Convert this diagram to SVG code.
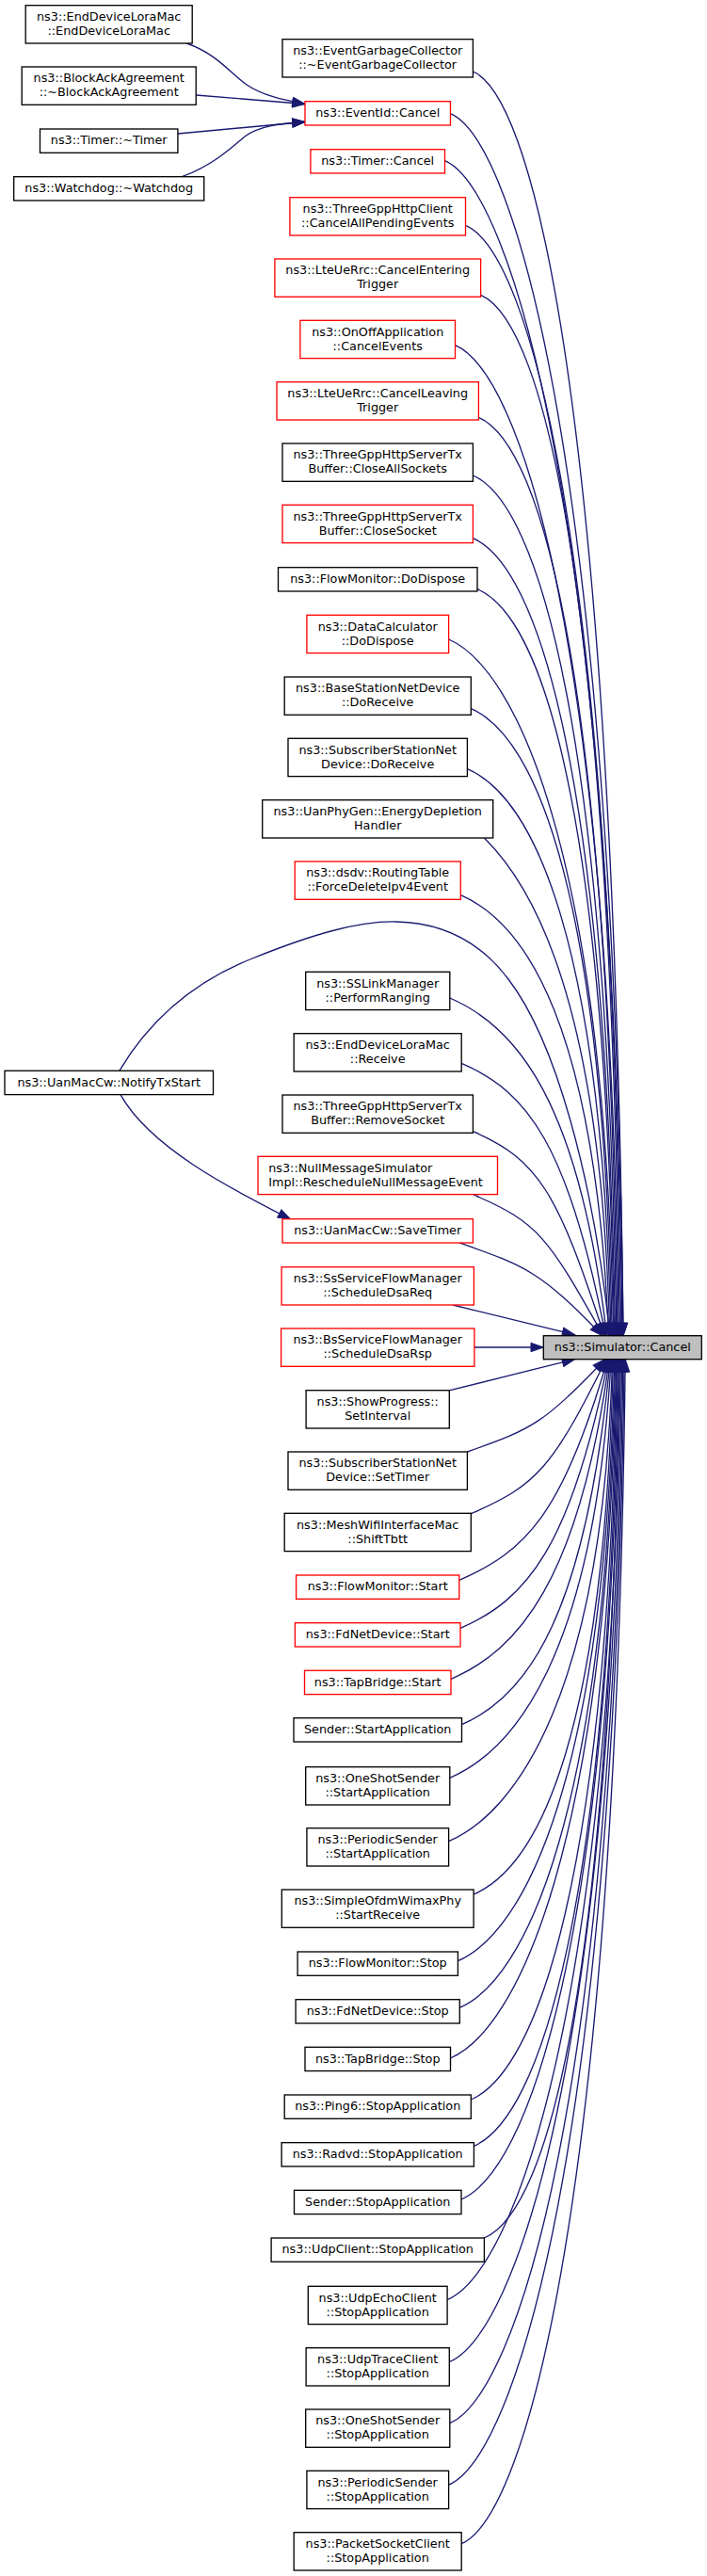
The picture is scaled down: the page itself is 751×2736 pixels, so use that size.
<svg xmlns="http://www.w3.org/2000/svg" width="751" height="2736" viewBox="0 0 751 2736">
<style>
.n rect{fill:#ffffff;stroke:#000000;stroke-width:1.33}
.r rect{stroke:#ff0000}
.t rect{fill:#bfbfbf;stroke:#000000}
text{font-family:"DejaVu Sans","Liberation Sans",sans-serif;font-size:12.8px;fill:#000000;text-anchor:middle}
text.l{text-anchor:start}
#edges path{fill:none;stroke:#191970;stroke-width:1.33;marker-end:url(#ah)}
</style>
<defs>
<marker id="ah" viewBox="0 0 14 10" refX="13.3" refY="4.65" markerWidth="14" markerHeight="10" markerUnits="userSpaceOnUse" orient="auto" overflow="visible">
<path d="M0,0 L13.3,4.65 L0,9.3 Z" fill="#191970" stroke="#191970" stroke-width="1"/>
</marker>
</defs>
<rect x="0" y="0" width="751" height="2736" fill="#ffffff"/>
<g id="edges">
<path d="M198.3,46 C230,57 245,78 262,90 C278,101 300,106 324,110.5"/>
<path d="M208.2,101 L324,110.5"/>
<path d="M188.9,142 L324,129.5"/>
<path d="M193.3,187.7 C225,176 245,158 260,145 C275,134 298,131 324,129.5"/>
<path d="M128,1162.6 C160,1220 250,1265 308.6,1295"/>
<path d="M126.8,1137.3 C155,1090 200,1045 268,1018 C330,993 380,978 421,979 C470,980 510,1000 540,1040 C590,1105 630,1250 648,1418.7"/>
<path d="M502.4,76 C572.4,106 652,478.8 662,1418.7"/>
<path d="M478.5,120.7 C548.5,150.7 652,510.1 662,1418.7"/>
<path d="M472.5,170.7 C542.5,200.7 651,545.1 661,1418.7"/>
<path d="M494.5,239.3 C564.5,269.3 649.8,593.1 659.8,1418.7"/>
<path d="M510.6,313.3 C580.6,343.3 648.4,644.9 658.4,1418.7"/>
<path d="M483.5,366.7 C553.5,396.7 647.4,682.3 657.4,1418.7"/>
<path d="M508.4,443.3 C578.4,473.3 646,735.9 656,1418.7"/>
<path d="M502.4,505 C572.4,535 644.9,779.1 654.9,1418.7"/>
<path d="M502.4,571.7 C572.4,601.7 643.6,825.8 653.6,1418.7"/>
<path d="M507,625.7 C577,655.7 642.6,863.6 652.6,1418.7"/>
<path d="M476.6,679 C546.6,709 641.7,900.9 651.7,1418.7"/>
<path d="M500.3,752.7 C570.3,782.7 640.3,952.5 650.3,1418.7"/>
<path d="M496.4,816.7 C566.4,846.7 639.1,997.3 649.1,1418.7"/>
<path d="M514.4,890 C560,935 637.8,1048.6 647.8,1418.7"/>
<path d="M489.3,950.7 C559.3,980.7 632.1,1091.1 646.6,1418.7"/>
<path d="M477.8,1060 C547.8,1090 614.8,1167.6 644.6,1418.7"/>
<path d="M490.2,1129.3 C560.2,1159.3 603.8,1216.1 643.3,1418.7"/>
<path d="M502.4,1201.7 C572.4,1231.7 592.4,1266.8 642,1418.7"/>
<path d="M502.4,1268.7 C572.4,1298.7 581.8,1313.7 640.8,1418.7"/>
<path d="M488,1320 C558,1344.7 573.6,1349.6 639.8,1418.7"/>
<path d="M480.9,1386 C530,1398 570,1408 610.6,1417.7"/>
<path d="M503.9,1431 L577.3,1431"/>
<path d="M478,1476.7 C520,1466 570,1454 610.6,1443.7"/>
<path d="M496.4,1542 C566.4,1517.4 576.6,1512.5 642.8,1443.7"/>
<path d="M500.3,1607.7 C570.3,1577.7 587,1558.5 644,1443.7"/>
<path d="M487.8,1678.3 C557.8,1648.3 598.1,1607.9 645.3,1443.7"/>
<path d="M489,1729.3 C559,1699.3 606.3,1643.6 646.3,1443.7"/>
<path d="M479,1783.3 C549,1753.3 614.8,1681.4 647.3,1443.7"/>
<path d="M490.5,1831.7 C560.5,1801.7 622.5,1715.3 648.2,1443.7"/>
<path d="M477.8,1888.3 C547.8,1858.3 631.4,1754.9 649.2,1443.7"/>
<path d="M476.6,1955.7 C546.6,1925.7 640.5,1802.1 650.5,1443.7"/>
<path d="M503.1,2012 C573.1,1982 641.5,1841.5 651.5,1443.7"/>
<path d="M486.4,2082.7 C556.4,2052.7 642.8,1891 652.8,1443.7"/>
<path d="M488.3,2132.3 C558.3,2102.3 643.7,1925.7 653.7,1443.7"/>
<path d="M478.5,2186 C548.5,2156 644.7,1963.3 654.7,1443.7"/>
<path d="M500.3,2230 C570.3,2200 645.5,1994.1 655.5,1443.7"/>
<path d="M503.4,2279.3 C573.4,2249.3 646.4,2028.6 656.4,1443.7"/>
<path d="M490,2336 C560,2306 647.5,2068.3 657.5,1443.7"/>
<path d="M514.4,2377 C584.4,2347 648.2,2096.3 658.2,1443.7"/>
<path d="M475.1,2442.7 C545.1,2412.7 649.4,2143 659.4,1443.7"/>
<path d="M477.3,2508.7 C547.3,2478.7 650.7,2189.2 660.7,1443.7"/>
<path d="M477.8,2573.7 C547.8,2543.7 651.9,2234.7 661.9,1443.7"/>
<path d="M476.6,2639.3 C546.6,2609.3 653.1,2280.6 663.1,1443.7"/>
<path d="M490.2,2701.7 C560.2,2671.7 654.2,2324.3 664.2,1443.7"/>
</g>
<g id="target" class="n t"><rect x="577.3" y="1418.7" width="168" height="25"/><text x="661.3" y="1434.5">ns3::Simulator::Cancel</text></g>
<g id="l1" class="n"><rect x="27.2" y="5.7" width="177" height="40.3"/><text x="115.7" y="21.9">ns3::EndDeviceLoraMac</text><text x="115.7" y="36.9">::EndDeviceLoraMac</text></g>
<g id="l2" class="n"><rect x="23.2" y="71" width="185" height="40.3"/><text x="115.7" y="87.2">ns3::BlockAckAgreement</text><text x="115.7" y="102.2">::~BlockAckAgreement</text></g>
<g id="l3" class="n"><rect x="42.5" y="137" width="146.4" height="25.3"/><text x="115.7" y="153.2">ns3::Timer::~Timer</text></g>
<g id="l4" class="n"><rect x="14.7" y="187.7" width="202" height="25.3"/><text x="115.7" y="203.9">ns3::Watchdog::~Watchdog</text></g>
<g id="l5" class="n"><rect x="5" y="1137.3" width="221.5" height="25.3"/><text x="115.7" y="1153.5">ns3::UanMacCw::NotifyTxStart</text></g>
<g id="m1" class="n"><rect x="300" y="41.7" width="202.4" height="40.3"/><text x="401.2" y="57.9">ns3::EventGarbageCollector</text><text x="401.2" y="72.9">::~EventGarbageCollector</text></g>
<g id="m2" class="n r"><rect x="324" y="107.7" width="154.5" height="25.3"/><text x="401.2" y="123.9">ns3::EventId::Cancel</text></g>
<g id="m3" class="n r"><rect x="329.9" y="158.7" width="142.6" height="25.3"/><text x="401.2" y="174.9">ns3::Timer::Cancel</text></g>
<g id="m4" class="n r"><rect x="307.9" y="209.7" width="186.6" height="40.3"/><text x="401.2" y="225.9">ns3::ThreeGppHttpClient</text><text x="401.2" y="240.9">::CancelAllPendingEvents</text></g>
<g id="m5" class="n r"><rect x="291.9" y="275" width="218.7" height="40.3"/><text x="401.2" y="291.2">ns3::LteUeRrc::CancelEntering</text><text x="401.2" y="306.2">Trigger</text></g>
<g id="m6" class="n r"><rect x="318.9" y="340.3" width="164.6" height="40.3"/><text x="401.2" y="356.5">ns3::OnOffApplication</text><text x="401.2" y="371.5">::CancelEvents</text></g>
<g id="m7" class="n r"><rect x="294" y="405.7" width="214.4" height="40.3"/><text x="401.2" y="421.9">ns3::LteUeRrc::CancelLeaving</text><text x="401.2" y="436.9">Trigger</text></g>
<g id="m8" class="n"><rect x="300" y="471" width="202.4" height="40.3"/><text x="401.2" y="487.2">ns3::ThreeGppHttpServerTx</text><text x="401.2" y="502.2">Buffer::CloseAllSockets</text></g>
<g id="m9" class="n r"><rect x="300" y="536.3" width="202.4" height="40.3"/><text x="401.2" y="552.5">ns3::ThreeGppHttpServerTx</text><text x="401.2" y="567.5">Buffer::CloseSocket</text></g>
<g id="m10" class="n"><rect x="295.5" y="602.7" width="211.5" height="25.3"/><text x="401.2" y="618.9">ns3::FlowMonitor::DoDispose</text></g>
<g id="m11" class="n r"><rect x="325.9" y="653.3" width="150.7" height="40.3"/><text x="401.2" y="669.5">ns3::DataCalculator</text><text x="401.2" y="684.5">::DoDispose</text></g>
<g id="m12" class="n"><rect x="302.2" y="719" width="198.1" height="40.3"/><text x="401.2" y="735.2">ns3::BaseStationNetDevice</text><text x="401.2" y="750.2">::DoReceive</text></g>
<g id="m13" class="n"><rect x="306" y="784.3" width="190.4" height="40.3"/><text x="401.2" y="800.5">ns3::SubscriberStationNet</text><text x="401.2" y="815.5">Device::DoReceive</text></g>
<g id="m14" class="n"><rect x="278.7" y="849.7" width="245" height="40.3"/><text x="401.2" y="865.9">ns3::UanPhyGen::EnergyDepletion</text><text x="401.2" y="880.9">Handler</text></g>
<g id="m15" class="n r"><rect x="313.2" y="915" width="176.1" height="40.3"/><text x="401.2" y="931.2">ns3::dsdv::RoutingTable</text><text x="401.2" y="946.2">::ForceDeleteIpv4Event</text></g>
<g id="m16" class="n"><rect x="324.7" y="1032.3" width="153.1" height="40.3"/><text x="401.2" y="1048.5">ns3::SSLinkManager</text><text x="401.2" y="1063.5">::PerformRanging</text></g>
<g id="m17" class="n"><rect x="312.2" y="1097.7" width="178" height="40.3"/><text x="401.2" y="1113.9">ns3::EndDeviceLoraMac</text><text x="401.2" y="1128.9">::Receive</text></g>
<g id="m18" class="n"><rect x="300" y="1163" width="202.4" height="40.3"/><text x="401.2" y="1179.2">ns3::ThreeGppHttpServerTx</text><text x="401.2" y="1194.2">Buffer::RemoveSocket</text></g>
<g id="m19" class="n r"><rect x="274" y="1228.3" width="254.5" height="40.3"/><text class="l" x="285.2" y="1244.5">ns3::NullMessageSimulator</text><text class="l" x="285.2" y="1259.5">Impl::RescheduleNullMessageEvent</text></g>
<g id="m20" class="n r"><rect x="300" y="1294.7" width="202.4" height="25.3"/><text x="401.2" y="1310.9">ns3::UanMacCw::SaveTimer</text></g>
<g id="m21" class="n r"><rect x="299.1" y="1345.7" width="204.3" height="40.3"/><text x="401.2" y="1361.9">ns3::SsServiceFlowManager</text><text x="401.2" y="1376.9">::ScheduleDsaReq</text></g>
<g id="m22" class="n r"><rect x="298.6" y="1411" width="205.3" height="40.3"/><text x="401.2" y="1427.2">ns3::BsServiceFlowManager</text><text x="401.2" y="1442.2">::ScheduleDsaRsp</text></g>
<g id="m23" class="n"><rect x="325.1" y="1476.7" width="152.2" height="40.3"/><text x="401.2" y="1492.9">ns3::ShowProgress::</text><text x="401.2" y="1507.9">SetInterval</text></g>
<g id="m24" class="n"><rect x="306" y="1542" width="190.4" height="40.3"/><text x="401.2" y="1558.2">ns3::SubscriberStationNet</text><text x="401.2" y="1573.2">Device::SetTimer</text></g>
<g id="m25" class="n"><rect x="302.2" y="1607.3" width="198.1" height="40.3"/><text x="401.2" y="1623.5">ns3::MeshWifiInterfaceMac</text><text x="401.2" y="1638.5">::ShiftTbtt</text></g>
<g id="m26" class="n r"><rect x="314.6" y="1673" width="173.2" height="25.3"/><text x="401.2" y="1689.2">ns3::FlowMonitor::Start</text></g>
<g id="m27" class="n r"><rect x="313.4" y="1723.7" width="175.6" height="25.3"/><text x="401.2" y="1739.9">ns3::FdNetDevice::Start</text></g>
<g id="m28" class="n r"><rect x="323.5" y="1774.3" width="155.5" height="25.3"/><text x="401.2" y="1790.5">ns3::TapBridge::Start</text></g>
<g id="m29" class="n"><rect x="312" y="1824.7" width="178.5" height="25.3"/><text x="401.2" y="1840.9">Sender::StartApplication</text></g>
<g id="m30" class="n"><rect x="324.7" y="1876.7" width="153.1" height="40.3"/><text x="401.2" y="1892.9">ns3::OneShotSender</text><text x="401.2" y="1907.9">::StartApplication</text></g>
<g id="m31" class="n"><rect x="325.9" y="1941.7" width="150.7" height="40.3"/><text x="401.2" y="1957.9">ns3::PeriodicSender</text><text x="401.2" y="1972.9">::StartApplication</text></g>
<g id="m32" class="n"><rect x="299.3" y="2007" width="203.8" height="40.3"/><text x="401.2" y="2023.2">ns3::SimpleOfdmWimaxPhy</text><text x="401.2" y="2038.2">::StartReceive</text></g>
<g id="m33" class="n"><rect x="316.1" y="2073" width="170.3" height="25.3"/><text x="401.2" y="2089.2">ns3::FlowMonitor::Stop</text></g>
<g id="m34" class="n"><rect x="314.1" y="2123.7" width="174.2" height="25.3"/><text x="401.2" y="2139.9">ns3::FdNetDevice::Stop</text></g>
<g id="m35" class="n"><rect x="324" y="2174.3" width="154.5" height="25.3"/><text x="401.2" y="2190.5">ns3::TapBridge::Stop</text></g>
<g id="m36" class="n"><rect x="302.2" y="2225" width="198.1" height="25.3"/><text x="401.2" y="2241.2">ns3::Ping6::StopApplication</text></g>
<g id="m37" class="n"><rect x="299.1" y="2275.7" width="204.3" height="25.3"/><text x="401.2" y="2291.9">ns3::Radvd::StopApplication</text></g>
<g id="m38" class="n"><rect x="312.5" y="2326.3" width="177.5" height="25.3"/><text x="401.2" y="2342.5">Sender::StopApplication</text></g>
<g id="m39" class="n"><rect x="288.1" y="2377" width="226.3" height="25.3"/><text x="401.2" y="2393.2">ns3::UdpClient::StopApplication</text></g>
<g id="m40" class="n"><rect x="327.3" y="2428.3" width="147.8" height="40.3"/><text x="401.2" y="2444.5">ns3::UdpEchoClient</text><text x="401.2" y="2459.5">::StopApplication</text></g>
<g id="m41" class="n"><rect x="325.1" y="2493.7" width="152.2" height="40.3"/><text x="401.2" y="2509.9">ns3::UdpTraceClient</text><text x="401.2" y="2524.9">::StopApplication</text></g>
<g id="m42" class="n"><rect x="324.7" y="2559" width="153.1" height="40.3"/><text x="401.2" y="2575.2">ns3::OneShotSender</text><text x="401.2" y="2590.2">::StopApplication</text></g>
<g id="m43" class="n"><rect x="325.9" y="2624.3" width="150.7" height="40.3"/><text x="401.2" y="2640.5">ns3::PeriodicSender</text><text x="401.2" y="2655.5">::StopApplication</text></g>
<g id="m44" class="n"><rect x="312.2" y="2689.7" width="178" height="40.3"/><text x="401.2" y="2705.9">ns3::PacketSocketClient</text><text x="401.2" y="2720.9">::StopApplication</text></g>
</svg>
